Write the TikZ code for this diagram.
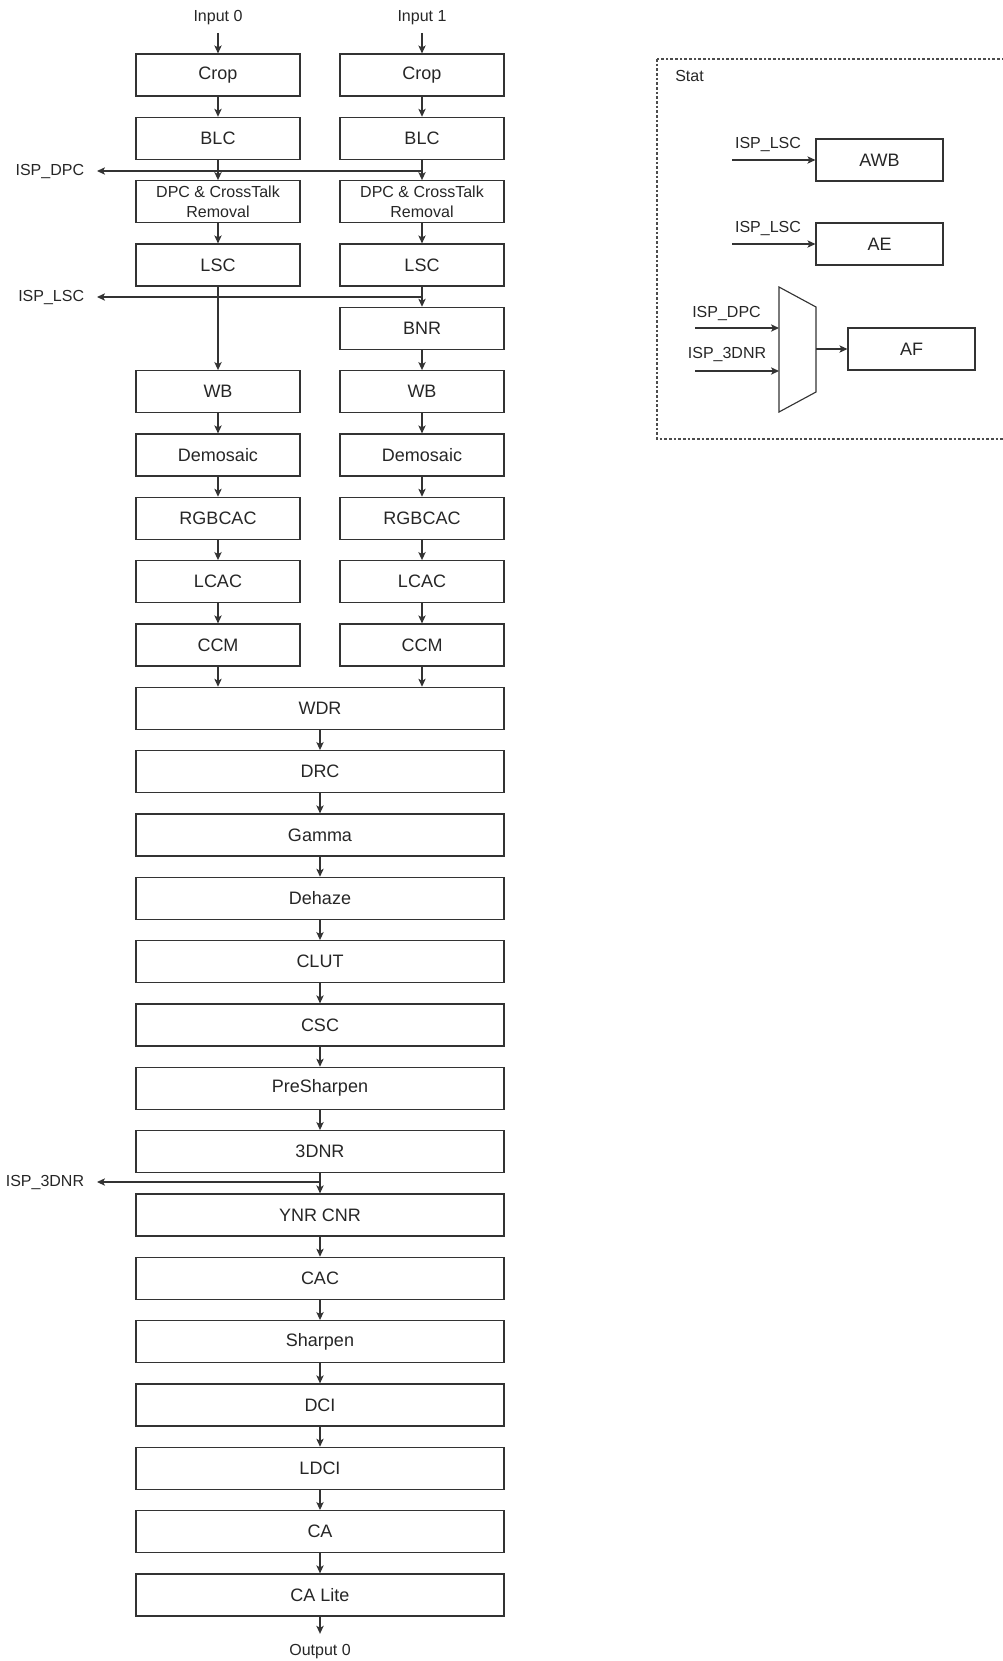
\documentclass[tikz,border=0pt]{standalone}
\usepackage{fontspec}
\setmainfont{Liberation Sans}
\usetikzlibrary{arrows.meta,positioning}
\tikzset{
  blk/.style={draw=black!80, line width=0.85pt, minimum width=123pt, minimum height=31.5pt,
    inner sep=0pt, align=center, text=black!85, font=\fontsize{13.5}{16}\selectfont},
  wideblk/.style={blk, minimum width=276pt},
  statblk/.style={blk, minimum width=95.25pt},
  lbl/.style={inner sep=0pt, text=black!85, font=\fontsize{12}{14.5}\selectfont},
  taplbl/.style={lbl, anchor=east, inner xsep=9.5pt},
  arr/.style={-{Stealth[length=6pt,width=5.5pt,inset=1.5pt]}, line width=0.85pt, black!80},
  statbox/.style={draw=black!70, line width=0.8pt, dash pattern=on 2pt off 1.5pt},
}

\begin{document}
\begin{tikzpicture}[x=0.75pt, y=-0.75pt]
  \useasboundingbox (0,0) rectangle (1003,1661);

  % two input columns
  \node[lbl] (in0) at (218,18) {Input 0};
  \node[lbl] (in1) at (422,18) {Input 1};
  \foreach \nm/\txt/\r in {crop/Crop/0, blc/BLC/1, lsc/LSC/3, wb/WB/5, dem/Demosaic/6,
      rgb/RGBCAC/7, lcac/LCAC/8, ccm/CCM/9}{
    \node[blk] (\nm0) at (218,{75+63.33*\r}) {\txt};
    \node[blk] (\nm1) at (422,{75+63.33*\r}) {\txt};
  }
  \node[blk] (bnr1) at (422,{75+63.33*4}) {BNR};
  \node[blk, font=\fontsize{12}{14.5}\selectfont] (dpc0) at (218,{75+63.33*2})
    {DPC \& CrossTalk\\Removal};
  \node[blk, font=\fontsize{12}{14.5}\selectfont] (dpc1) at (422,{75+63.33*2})
    {DPC \& CrossTalk\\Removal};

  % shared pipeline
  \foreach \nm/\txt [count=\r from 10] in {wdr/WDR, drc/DRC, gam/Gamma, dhz/Dehaze,
      clut/CLUT, csc/CSC, psh/PreSharpen, tdnr/3DNR, ynr/YNR CNR, cac/CAC,
      shp/Sharpen, dci/DCI, ldci/LDCI, ca/CA, cal/CA Lite}
    \node[wideblk] (\nm) at (320,{75+63.33*\r}) {\txt};
  \node[lbl] (out0) at (320,1652) {Output 0};

  % connectors
  \draw[arr, shorten <=5.5pt] (in0) -- (crop0);
  \draw[arr, shorten <=5.5pt] (in1) -- (crop1);
  \foreach \a/\b in {crop/blc, blc/dpc, dpc/lsc, wb/dem, dem/rgb, rgb/lcac, lcac/ccm}{
    \draw[arr] (\a0) -- (\b0);
    \draw[arr] (\a1) -- (\b1);
  }
  \draw[arr] (lsc0) -- (wb0);
  \draw[arr] (lsc1) -- (bnr1);
  \draw[arr] (bnr1) -- (wb1);
  \draw[arr] (ccm0) -- (ccm0 |- wdr.north);
  \draw[arr] (ccm1) -- (ccm1 |- wdr.north);
  \foreach \a/\b in {wdr/drc, drc/gam, gam/dhz, dhz/clut, clut/csc, csc/psh, psh/tdnr,
      tdnr/ynr, ynr/cac, cac/shp, shp/dci, dci/ldci, ldci/ca, ca/cal}
    \draw[arr] (\a) -- (\b);
  \draw[arr, shorten >=8pt] (cal) -- (out0);

  % statistics taps
  \node[taplbl] (dpcout) at (97,171) {ISP\_DPC};
  \node[taplbl] (lscout) at (97,297) {ISP\_LSC};
  \node[taplbl] (tdnrout) at (97,1182) {ISP\_3DNR};
  \draw[arr] (blc1 |- dpcout) -- (dpcout.east);
  \draw[arr] (lsc1 |- lscout) -- (lscout.east);
  \draw[arr] (tdnr |- tdnrout) -- (tdnrout.east);

  % Stat block
  \draw[statbox] (657,59) rectangle (1006,439);
  \node[lbl, anchor=west] (stat) at (675,76) {Stat};
  \node[statblk] (awb) at (879.5,160) {AWB};
  \node[statblk] (ae) at (879.5,244) {AE};
  \node[statblk] (af) at (911.5,349) {AF};
  \coordinate (awbin) at (732,160);
  \coordinate (aein) at (732,244);
  \node[lbl] (awblbl) at (768,144) {ISP\_LSC};
  \node[lbl] (aelbl) at (768,228) {ISP\_LSC};
  \draw[arr] (awbin) -- (awb);
  \draw[arr] (aein) -- (ae);
  % selector
  \draw[draw=black!80, line width=0.85pt] (779,287) -- (816,307) -- (816,392) -- (779,412) -- cycle;
  \coordinate (muxa) at (779,328);
  \coordinate (muxb) at (779,371);
  \coordinate (muxo) at (816,349);
  \coordinate (dpcin) at (695,328);
  \coordinate (tdnrin) at (695,371);
  \node[lbl] (dpclbl) at (726.5,313) {ISP\_DPC};
  \node[lbl] (tdnrlbl) at (727,354) {ISP\_3DNR};
  \draw[arr] (dpcin) -- (muxa);
  \draw[arr] (tdnrin) -- (muxb);
  \draw[arr] (muxo) -- (af);
\end{tikzpicture}
\end{document}
